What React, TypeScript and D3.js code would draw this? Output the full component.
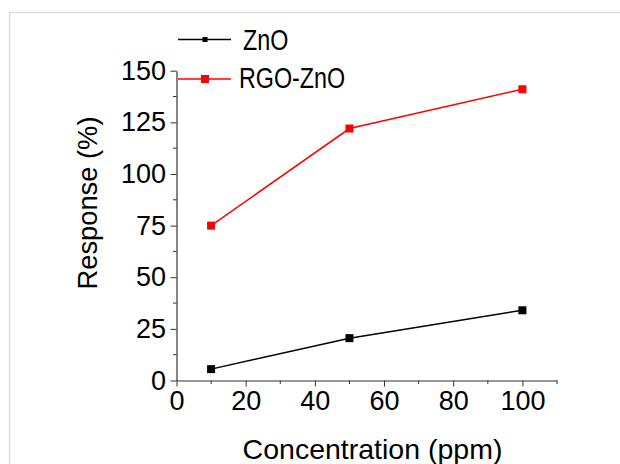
import React, { useEffect, useRef } from "react";
import * as d3 from "d3";

const concentrations = [10, 50, 100];
const znoValues = [5.5, 20.5, 34];
const rgoValues = [75, 122, 141];
const seriesNames = ["ZnO", "RGO-ZnO"];
const seriesColors = ["#000000", "#ff0000"];
const xTicks = [0, 20, 40, 60, 80, 100];
const yTicks = [0, 25, 50, 75, 100, 125, 150];

const W = 620;
const H = 464;

export default function App() {
  const ref = useRef<SVGSVGElement | null>(null);

  useEffect(() => {
    const svg = d3.select(ref.current);
    svg.selectAll("*").remove();
    const font = "Arial, 'Liberation Sans', sans-serif";

    svg.append("rect").attr("width", W).attr("height", H).attr("fill", "#fff");
    svg.append("path").attr("d", `M9.5,${H} V12.5 H${W}`).attr("fill", "none").attr("stroke", "#dcdcdc").attr("stroke-width", 1.5);

    const x = d3.scaleLinear().domain([0, 110]).range([176.5, 557]);
    const y = d3.scaleLinear().domain([0, 150]).range([380.5, 70.7]);

    const g = svg.append("g");

    const xAxis = d3.axisBottom(x).tickValues(xTicks).tickSize(6).tickSizeOuter(0).tickPadding(4).tickFormat(d3.format("d") as any);
    const gx = g.append("g").attr("transform", `translate(0,${y(0)})`).call(xAxis);
    gx.selectAll(".tick text").attr("font-size", 27).attr("font-family", font).attr("fill", "#000");
    gx.select(".domain").attr("stroke", "#333").attr("stroke-width", 1.2);
    gx.selectAll(".tick line").attr("stroke", "#333");
    const xMinor = d3.range(10, 111, 20);
    gx.selectAll(".minor").data(xMinor).enter().append("line").attr("class", "minor")
      .attr("x1", d => x(d)).attr("x2", d => x(d)).attr("y1", 0).attr("y2", 3.5).attr("stroke", "#333");

    const yAxis = d3.axisLeft(y).tickValues(yTicks).tickSize(6).tickSizeOuter(0).tickPadding(4.5);
    const gy = g.append("g").attr("transform", `translate(${x(0)},0)`).call(yAxis);
    gy.selectAll(".tick text").attr("font-size", 27).attr("font-family", font).attr("fill", "#000");
    gy.select(".domain").attr("stroke", "#333").attr("stroke-width", 1.2);
    gy.selectAll(".tick line").attr("stroke", "#333");
    const yMinor = d3.range(12.5, 150, 25);
    gy.selectAll(".minor").data(yMinor).enter().append("line").attr("class", "minor")
      .attr("x1", 0).attr("x2", -3.5).attr("y1", d => y(d)).attr("y2", d => y(d)).attr("stroke", "#333");

    svg.append("text").attr("x", 372.5).attr("y", 459).attr("text-anchor", "middle")
      .attr("font-size", 28.5).attr("font-family", font).text("Concentration (ppm)");
    svg.append("text").attr("transform", `translate(97,203) rotate(-90)`).attr("text-anchor", "middle")
      .attr("font-size", 27.3).attr("font-family", font).text("Response (%)");

    const series = [znoValues, rgoValues];
    const line = d3.line<number>().x((_, i) => x(concentrations[i])).y(d => y(d));
    series.forEach((vals, si) => {
      g.append("path").datum(vals).attr("d", line).attr("fill", "none")
        .attr("stroke", seriesColors[si]).attr("stroke-width", 1.5);
      g.selectAll(`.m${si}`).data(vals).enter().append("rect").attr("class", `m${si}`)
        .attr("x", (_, i) => x(concentrations[i]) - 4).attr("y", d => y(d) - 4)
        .attr("width", 8).attr("height", 8).attr("fill", seriesColors[si]);
    });

    const legY = [39.5, 79];
    const legBase = [50, 88];
    const legText = [243, 239];
    seriesNames.forEach((name, si) => {
      const lg = svg.append("g");
      lg.append("line").attr("x1", 178).attr("x2", 231).attr("y1", legY[si]).attr("y2", legY[si])
        .attr("stroke", seriesColors[si]).attr("stroke-width", 1.5);
      const s = si === 0 ? 5 : 8;
      lg.append("rect").attr("x", 205 - s / 2).attr("y", legY[si] - s / 2)
        .attr("width", s).attr("height", s).attr("fill", seriesColors[si]);
      lg.append("text").attr("transform", `translate(${legText[si]},${legBase[si]}) scale(0.79,1)`)
        .attr("font-size", 29.5).attr("font-family", font).text(name);
    });
  }, []);

  return (
    <svg ref={ref} width={W} height={H} style={{ position: "absolute", left: 0, top: 0 }} />
  );
}
